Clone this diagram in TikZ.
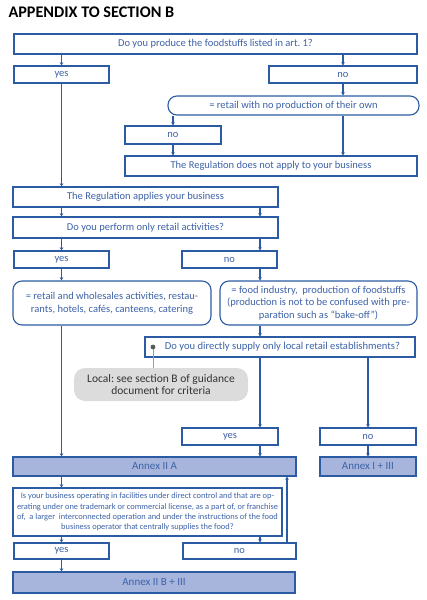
\documentclass[tikz,border=0pt]{standalone}
\usepackage{fontspec}
\setmainfont{Carlito}
\frenchspacing
\usetikzlibrary{arrows.meta}
\definecolor{bblue}{HTML}{2B5CA3}
\definecolor{tblue}{HTML}{3D62A8}
\definecolor{afill}{HTML}{A7B5DC}
\definecolor{lgrey}{HTML}{DCDCDC}
\definecolor{dgrey}{HTML}{5A5A5A}
\tikzset{
  box/.style={draw=bblue, line width=1.1pt, fill=white, text=tblue, inner sep=1pt, font=\fontsize{10.5}{12}\selectfont, align=center},
  rbox/.style={box, rounded corners=9pt},
  annex/.style={box, fill=afill, draw=bblue, font=\fontsize{11}{12}\selectfont},
  conn/.style={draw=bblue, line width=1.1pt, -{Stealth[length=3.2pt,width=3.6pt]}},
  localbox/.style={fill=lgrey, rounded corners=11pt, text=black!80, font=\fontsize{11.5}{11.7}\selectfont, align=center, inner sep=1pt},
}
\begin{document}
\begin{tikzpicture}[x=1pt,y=-1pt]
\useasboundingbox (0,0) rectangle (426,600);
\node[anchor=base west, font=\fontsize{16.2}{18}\selectfont\bfseries, text=black] (title) at (5,17) {APPENDIX TO SECTION B};

\node[box, minimum width=403, minimum height=20] (q1) at (215.5,44) {Do you produce the foodstuffs listed in art. 1?};
\node[box, minimum width=95, minimum height=17] (yes1) at (61.5,74.5) {yes};
\node[box, minimum width=148, minimum height=17] (no1) at (343,74.5) {no};
\node[rbox, minimum width=251, minimum height=19] (r1) at (293.5,105.5) {= retail with no production of their own};
\node[box, minimum width=96, minimum height=18] (no2) at (173,135) {no};
\node[box, minimum width=292, minimum height=20] (notapply) at (271,166) {The Regulation does not apply to your business};
\node[box, minimum width=265, minimum height=20] (applies) at (145.5,197) {The Regulation applies your business};
\node[box, minimum width=265, minimum height=21] (retail) at (145.5,227.5) {Do you perform only retail activities?};
\node[box, minimum width=95, minimum height=17] (yes2) at (61.5,259.5) {yes};
\node[box, minimum width=95, minimum height=17] (no3) at (229.5,259.5) {no};
\node[rbox, minimum width=198, minimum height=44, font=\fontsize{10.5}{13}\selectfont] (rl) at (112,303) {= retail and wholesales activities, restau-\\rants, hotels, cafés, canteens, catering};
\node[rbox, minimum width=197, minimum height=44, font=\fontsize{10.5}{12.7}\selectfont] (rr) at (318.5,303) {= food industry,\ \ production of foodstuffs\\(production is not to be confused with pre-\\paration such as “bake-off”)};
\node[box, minimum width=270, minimum height=20, font=\fontsize{10.6}{12}\selectfont] (supply) at (280,347) {\hspace*{5pt}Do you directly supply only local retail establishments?};
\node[localbox, minimum width=174, minimum height=33] (local) at (161,384.5) {Local: see section B of guidance\\document for criteria};
\node[box, minimum width=96, minimum height=17] (yes3) at (230,436.5) {yes};
\node[box, minimum width=96, minimum height=17] (no4) at (368,436.5) {no};
\node[annex, minimum width=283, minimum height=19] (annexIIA) at (154.5,466.5) {Annex II A};
\node[annex, minimum width=96, minimum height=19] (annexI) at (368,466.5) {Annex I + III};
\node[box, minimum width=269, minimum height=48, font=\fontsize{8.4}{10.3}\selectfont] (q2) at (147.5,512) {Is your business operating in facilities under direct control and that are op-\\erating under one trademark or commercial license, as a part of, or franchise\\of,\ \ a larger\ \ interconnected operation and under the instructions of the food\\business operator that centrally supplies the food?};
\node[box, minimum width=95, minimum height=16] (yes4) at (61.5,551) {yes};
\node[box, minimum width=113, minimum height=16] (no5) at (239.5,551) {no};
\node[annex, minimum width=282, minimum height=21] (annexIIB) at (154,582.5) {Annex II B + III};

\coordinate (cR) at (260,0);
\coordinate (cB) at (287,0);

% column x=61
\draw[conn] (yes1.north |- q1.south) -- (yes1.north);
\draw[conn] (yes1.south) -- (yes1.south |- applies.north);
\draw[conn] (yes1.south |- applies.south) -- (yes1.south |- retail.north);
\draw[conn] (yes2.north |- retail.south) -- (yes2.north);
\draw[conn] (yes2.south) -- (yes2.south |- rl.north);
\draw[conn] (yes2.south |- rl.south) -- (yes2.south |- annexIIA.north);
\draw[conn] (yes4.north |- annexIIA.south) -- (yes4.north |- q2.north);
\draw[conn] (yes4.north |- q2.south) -- (yes4.north);
\draw[conn] (yes4.south) -- (yes4.south |- annexIIB.north);

% column x=343
\draw[conn] (no1.north |- q1.south) -- (no1.north);
\draw[conn] (no1.south) -- (no1.south |- r1.north);
\draw[conn] (no1.south |- r1.south) -- (no1.south |- notapply.north);

% column x=173
\draw[conn] (no2.north |- r1.south) -- (no2.north);
\draw[conn] (no2.south) -- (no2.south |- notapply.north);

% column x=260
\draw[conn] (cR |- applies.south) -- (cR |- retail.north);
\draw[conn] (cR |- retail.south) -- (cR |- no3.north);
\draw[conn] (cR |- no3.south) -- (cR |- rr.north);
\draw[conn] (cR |- rr.south) -- (cR |- supply.north);
\draw[conn] (cR |- supply.south) -- (cR |- yes3.north);
\draw[conn] (cR |- yes3.south) -- (cR |- annexIIA.north);
\draw[conn] (cR |- q2.south) -- (cR |- no5.north);

% column x=367
\draw[conn] (no4.north |- supply.south) -- (no4.north);
\draw[conn] (no4.south) -- (no4.south |- annexI.north);

% loop back
\draw[conn] (cB |- no5.north) -- (cB |- annexIIA.south);

% local note
\coordinate (dot) at (153,347);
\draw[dgrey!60, line width=0.8pt] (dot) -- (dot |- local.north);
\fill[dgrey] (dot) circle (2.4);
\end{tikzpicture}
\end{document}
